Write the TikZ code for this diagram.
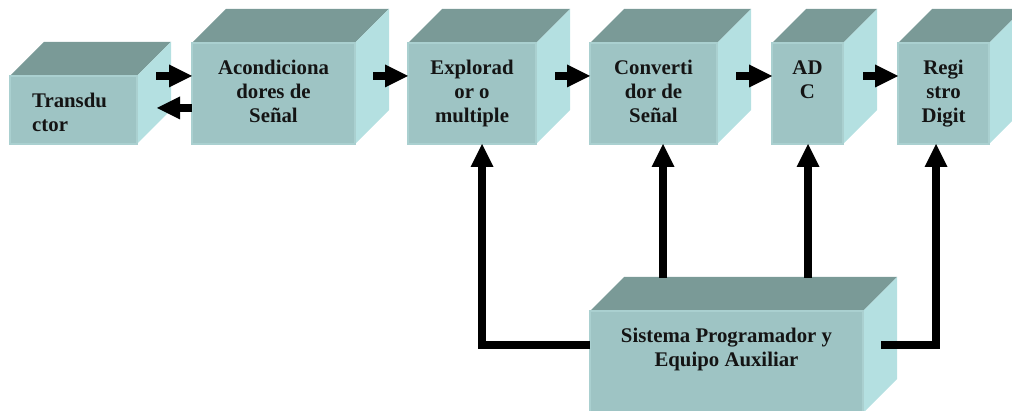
\documentclass[tikz,border=0pt]{standalone}
\usepackage{fontspec}
\newfontfamily\labelfont{Liberation Serif}
\usetikzlibrary{arrows.meta}

\definecolor{cubetop}{HTML}{7A9A97}
\definecolor{cubefront}{HTML}{9EC4C4}
\definecolor{cubeside}{HTML}{B4E0E1}
\definecolor{cubeedge}{HTML}{AAD0D0}

\tikzset{
  topface/.style={fill=cubetop},
  sideface/.style={fill=cubeside},
  frontface/.style={rectangle, fill=cubefront, draw=cubeedge, line width=1.2pt,
    inner sep=0pt, outer sep=0pt},
  lbl/.style={inner sep=0pt, align=center, text=black!92,
    font=\labelfont\bfseries\fontsize{20.8}{24.2}\selectfont},
  conn/.style={line width=8.5pt, line join=miter,
    -{Triangle[length=23pt,width=23pt,line width=0pt]}},
}

% 3-D block: name, left, top, right, bottom of the front face (depth 34)
\newcommand\cubeblock[5]{%
  \fill[topface] (#2,#3) -- (#2+34,#3-34) -- (#4+34,#3-34) -- (#4,#3) -- cycle;
  \fill[sideface] (#4,#3) -- (#4+34,#3-34) -- (#4+34,#5-34) -- (#4,#5) -- cycle;
  \node[frontface, anchor=north west,
        minimum width={(#4-#2)*1pt}, minimum height={(#5-#3)*1pt}] (#1) at (#2,#3) {};
}

\begin{document}
\begin{tikzpicture}[x=1pt,y=-1pt]
\clip (0,0) rectangle (1012,411);

% blocks
\cubeblock{t}{10}{76}{137}{144}
\cubeblock{a}{192}{43}{355}{144}
\cubeblock{e}{408}{43}{536}{144}
\cubeblock{c}{590}{43}{717}{144}
\cubeblock{d}{772}{43}{843}{144}
\cubeblock{r}{898}{43}{989}{144}
\cubeblock{s}{590}{311}{863}{413}

% labels
\node[lbl, align=left, anchor=north west] (tl) at ([shift={(22pt,-15pt)}]t.north west)
  {\rule{0pt}{16pt}Transdu\\ctor};
\node[lbl, anchor=north] (al) at ([yshift=-15pt]a.north) {\rule{0pt}{16pt}Acondiciona\\dores de\\Señal};
\node[lbl, anchor=north] (el) at ([yshift=-15pt]e.north) {\rule{0pt}{16pt}Explorad\\or o\\multiple};
\node[lbl, anchor=north] (cl) at ([yshift=-15pt]c.north) {\rule{0pt}{16pt}Converti\\dor de\\Señal};
\node[lbl, anchor=north] (dl) at ([yshift=-15pt]d.north) {\rule{0pt}{16pt}AD\\C};
\node[lbl, anchor=north] (rl) at ([yshift=-15pt]r.north) {\rule{0pt}{16pt}Regi\\stro\\Digit};
\node[lbl, anchor=north] (sl) at ([yshift=-15pt]s.north) {\rule{0pt}{16pt}Sistema Programador y\\Equipo Auxiliar};

% arrow end points along the chain
\coordinate (t1) at ([xshift=19pt]t.north east);
\coordinate (t2) at ([shift={(20pt,-32pt)}]t.north east);
\coordinate (a1) at ([shift={(18pt,-33pt)}]a.north east);
\coordinate (e1) at ([shift={(19pt,-33pt)}]e.north east);
\coordinate (c1) at ([shift={(19pt,-33pt)}]c.north east);
\coordinate (d1) at ([shift={(20pt,-33pt)}]d.north east);

\draw[conn] (t1) -- (t1 -| a.west);
\draw[conn] (t2 -| a.west) -- (t2);
\draw[conn] (a1) -- (a1 -| e.west);
\draw[conn] (e1) -- (e1 -| c.west);
\draw[conn] (c1) -- (c1 -| d.west);
\draw[conn] (d1) -- (d1 -| r.west);

% control lines from the programming system
\coordinate (sbt) at ([yshift=33pt]s.north);
\coordinate (ein) at ([xshift=10pt]e.south);
\coordinate (cin) at ([xshift=9.5pt]c.south);
\coordinate (din) at ([xshift=0.5pt]d.south);
\coordinate (rin) at ([xshift=-7.5pt]r.south);

\draw[conn] ([yshift=-34pt]s.north west) -| (ein);
\draw[conn] (cin |- sbt) -- (cin);
\draw[conn] (din |- sbt) -- (din);
\draw[conn] ([shift={(18pt,-34pt)}]s.north east) -| (rin);
\end{tikzpicture}
\end{document}
